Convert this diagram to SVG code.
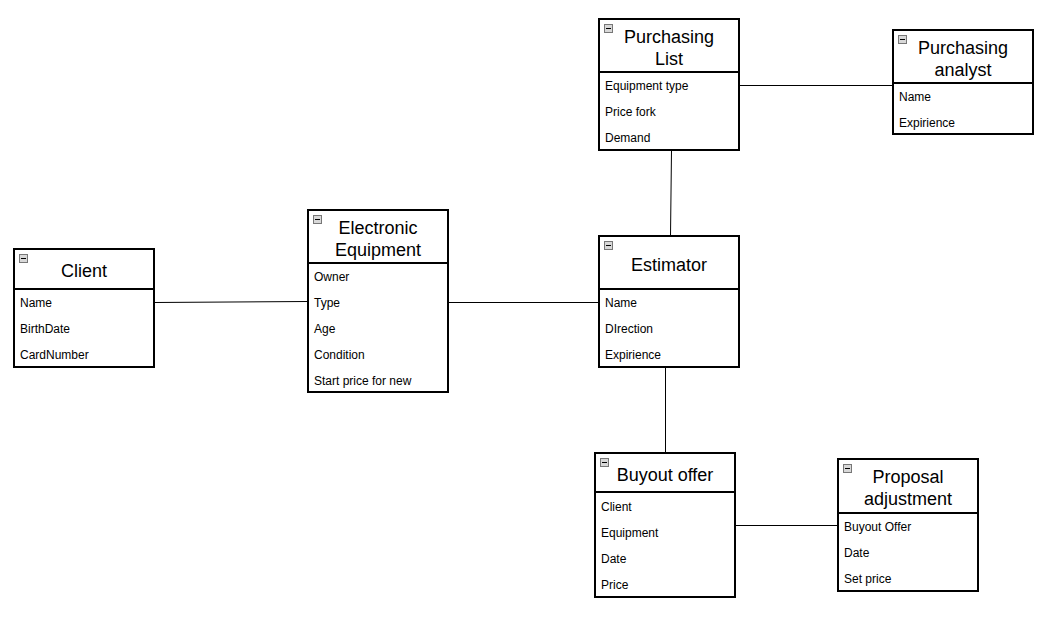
<svg xmlns="http://www.w3.org/2000/svg" width="1046" height="619" viewBox="0 0 1046 619">
<style>
.box{fill:#fff;stroke:#000;stroke-width:2}
.div{stroke:#000;stroke-width:2}
.t{font-family:"Liberation Sans",Arial,sans-serif;font-size:18px;fill:#000;text-anchor:middle}
.a{font-family:"Liberation Sans",Arial,sans-serif;font-size:12px;fill:#000}
.ic{fill:#d8d8d8;stroke:#777;stroke-width:1}
.icm{stroke:#000;stroke-width:1}
.c{stroke:#000;stroke-width:1;fill:none}
</style>
<defs>
<g id="icon"><rect class="ic" x="0.5" y="0.5" width="8" height="8"/><line class="icm" x1="2" y1="4.5" x2="7" y2="4.5"/></g>
</defs>
<rect width="1046" height="619" fill="#fff"/>
<g id="connectors">
<line class="c" x1="154" y1="302.5" x2="308" y2="301.5"/>
<line class="c" x1="448" y1="302.5" x2="599" y2="302.5"/>
<line class="c" x1="671.5" y1="150" x2="670.5" y2="236"/>
<line class="c" x1="739" y1="85.5" x2="893" y2="85.5"/>
<line class="c" x1="665.5" y1="367" x2="665.5" y2="453"/>
<line class="c" x1="735" y1="525.5" x2="838" y2="525.5"/>
</g>
<g id="client">
<rect class="box" x="14" y="249" width="140" height="118"/>
<line class="div" x1="14" y1="289" x2="154" y2="289"/>
<use href="#icon" x="19" y="254"/>
<text class="t" x="84" y="277">Client</text>
<text class="a" x="20" y="307">Name</text>
<text class="a" x="20" y="333">BirthDate</text>
<text class="a" x="20" y="359">CardNumber</text>
</g>
<g id="electronic-equipment">
<rect class="box" x="308" y="210" width="140" height="182"/>
<line class="div" x1="308" y1="263" x2="448" y2="263"/>
<use href="#icon" x="313" y="215"/>
<text class="t" x="378" y="234">Electronic</text>
<text class="t" x="378" y="256">Equipment</text>
<text class="a" x="314" y="281">Owner</text>
<text class="a" x="314" y="307">Type</text>
<text class="a" x="314" y="333">Age</text>
<text class="a" x="314" y="359">Condition</text>
<text class="a" x="314" y="385">Start price for new</text>
</g>
<g id="purchasing-list">
<rect class="box" x="599" y="19" width="140" height="131"/>
<line class="div" x1="599" y1="72" x2="739" y2="72"/>
<use href="#icon" x="604" y="24"/>
<text class="t" x="669" y="43">Purchasing</text>
<text class="t" x="669" y="65">List</text>
<text class="a" x="605" y="90">Equipment type</text>
<text class="a" x="605" y="116">Price fork</text>
<text class="a" x="605" y="142">Demand</text>
</g>
<g id="purchasing-analyst">
<rect class="box" x="893" y="30" width="140" height="104"/>
<line class="div" x1="893" y1="83" x2="1033" y2="83"/>
<use href="#icon" x="898" y="35"/>
<text class="t" x="963" y="54">Purchasing</text>
<text class="t" x="963" y="76">analyst</text>
<text class="a" x="899" y="101">Name</text>
<text class="a" x="899" y="127">Expirience</text>
</g>
<g id="estimator">
<rect class="box" x="599" y="236" width="140" height="131"/>
<line class="div" x1="599" y1="289" x2="739" y2="289"/>
<use href="#icon" x="604" y="241"/>
<text class="t" x="669" y="271">Estimator</text>
<text class="a" x="605" y="307">Name</text>
<text class="a" x="605" y="333">DIrection</text>
<text class="a" x="605" y="359">Expirience</text>
</g>
<g id="buyout-offer">
<rect class="box" x="595" y="453" width="140" height="144"/>
<line class="div" x1="595" y1="492" x2="735" y2="492"/>
<use href="#icon" x="600" y="458"/>
<text class="t" x="665" y="481">Buyout offer</text>
<text class="a" x="601" y="511">Client</text>
<text class="a" x="601" y="537">Equipment</text>
<text class="a" x="601" y="563">Date</text>
<text class="a" x="601" y="589">Price</text>
</g>
<g id="proposal-adjustment">
<rect class="box" x="838" y="459" width="140" height="132"/>
<line class="div" x1="838" y1="513" x2="978" y2="513"/>
<use href="#icon" x="843" y="464"/>
<text class="t" x="908" y="483">Proposal</text>
<text class="t" x="908" y="505">adjustment</text>
<text class="a" x="844" y="531">Buyout Offer</text>
<text class="a" x="844" y="557">Date</text>
<text class="a" x="844" y="583">Set price</text>
</g>
</svg>
